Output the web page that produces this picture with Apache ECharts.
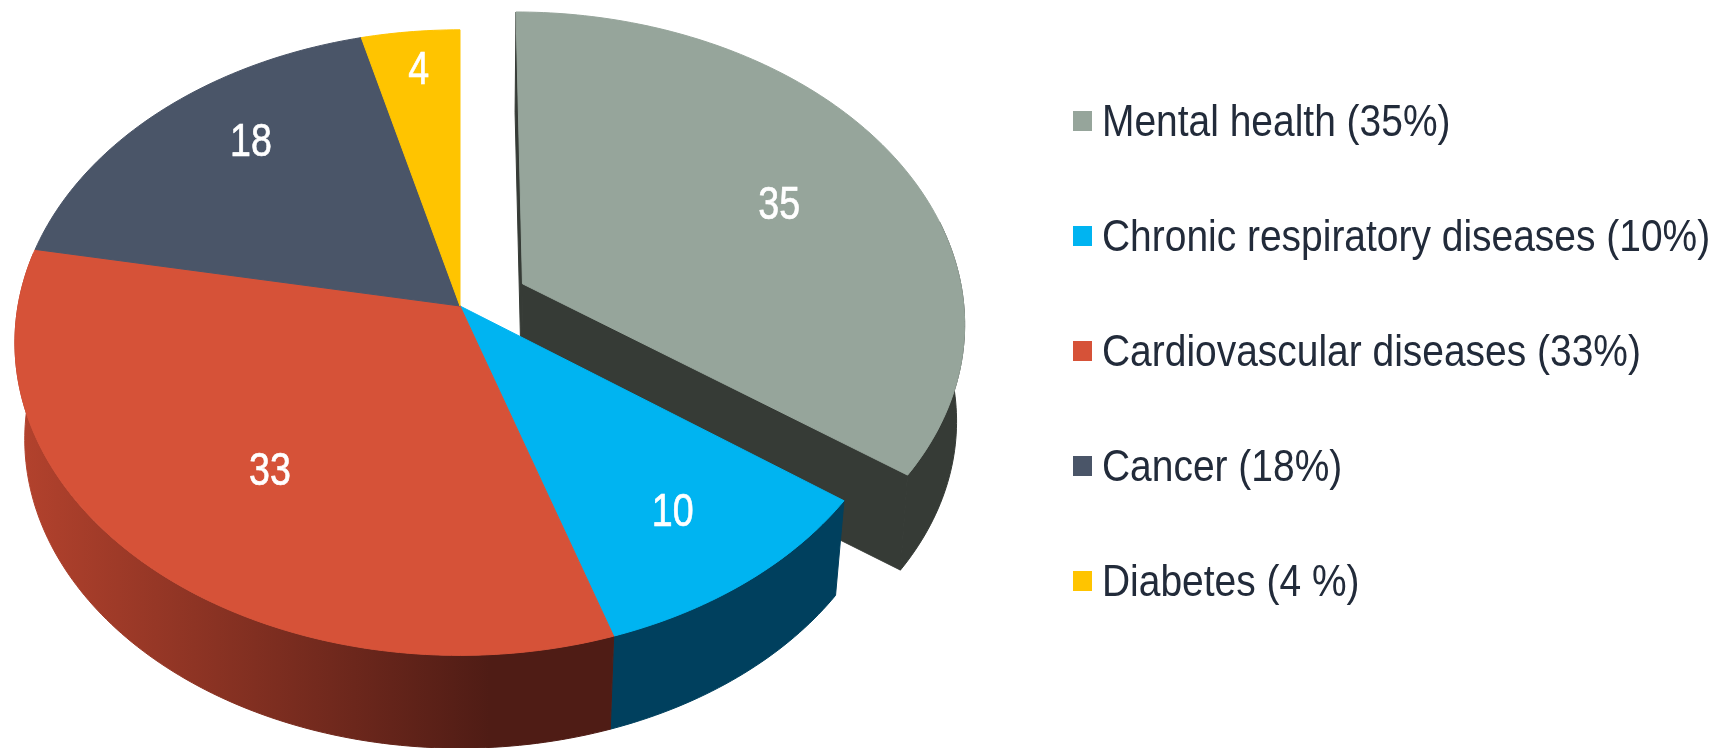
<!DOCTYPE html>
<html>
<head>
<meta charset="utf-8">
<style>html,body{margin:0;padding:0;background:#fff}#c{width:1712px;height:748px}</style>
<script src="https://cdn.jsdelivr.net/npm/echarts@6/dist/echarts.min.js"></script>
</head>
<body>
<div id="c"></div>
<script>
const categories = ['Mental health', 'Chronic respiratory diseases', 'Cardiovascular diseases', 'Cancer', 'Diabetes'];
const values = [35, 10, 33, 18, 4];
const legendLabels = ['Mental health (35%)', 'Chronic respiratory diseases (10%)', 'Cardiovascular diseases (33%)', 'Cancer (18%)', 'Diabetes (4 %)'];
const topColors = ['#96a59b', '#00b4f1', '#d65238', '#4a5568', '#ffc400'];
const wallColors = ['#363b36', '#00405e', null, '#333a47', '#a88000'];
const explode = [0.16, 0, 0, 0, 0];
const labelRadius = [0.668, 0.76, 0.642, 0.765, 0.855];
const labelShift = [2.7, 0, -2.3, 5.5, 0.3];
const lowerWidth = [0.984, 0.978, 0.978, 0.978, 0.978];

// projection of the tilted disc
const apexX = 460, apexY = 306, scaleX = 442, scaleY = 308.5, persp = 0.117;
const lowerScaleY = 0.988, depth = 97;
const total = values.reduce((a, b) => a + b, 0);
const FONT = '"Liberation Sans",Arial,sans-serif';

function project(dx, dy, lower) {
  const w = 1 + persp * dy;
  let X = scaleX * dx / w, Y = -scaleY * dy / w;
  if (lower !== false) { X *= lower; Y = Y * lowerScaleY + depth; }
  return [apexX + X, apexY + Y];
}
function rimPoint(deg, off, lower) {
  const t = deg * Math.PI / 180;
  return project(off[0] + Math.sin(t), off[1] + Math.cos(t), lower);
}
function arc(from, to, off, lower) {
  const pts = [];
  const n = Math.max(2, Math.ceil(Math.abs(to - from)));
  for (let i = 0; i <= n; i++) pts.push(rimPoint(from + (to - from) * i / n, off, lower));
  return pts;
}
const poly = (points, fill) => ({ type: 'polygon', shape: { points }, style: { fill, stroke: fill, lineWidth: 1 }, silent: true });

function makeRender(index) {
  return function (params, api) {
    const v = api.value(0);
    let start = 0;
    for (let i = 0; i < index; i++) start += values[i];
    const a = start / total * 360, b = (start + v) / total * 360;
    const mid = (a + b) / 2, mr = mid * Math.PI / 180;
    const off = [explode[index] * Math.sin(mr), explode[index] * Math.cos(mr)];
    const low = lowerWidth[index];
    const children = [];
    const wallFill = wallColors[index] || {
      type: 'linear', x: 20, y: 0, x2: 490, y2: 0, global: true,
      colorStops: [{ offset: 0, color: '#b3422d' }, { offset: 1, color: '#4f1c15' }]
    };
    // outer wall, front half only
    const wa = Math.max(a, 78), wb = Math.min(b, 280);
    if (wb > wa) {
      children.push(poly(arc(wa, wb, off, false).concat(arc(wa, wb, off, low).reverse()), wallFill));
    }
    // cut faces of an exploded slice
    if (explode[index] > 0) {
      const at = project(off[0], off[1], false), al = project(off[0], off[1], low);
      [a, b].forEach(d => {
        children.push(poly([at, rimPoint(d, off, false), rimPoint(d, off, low), al], wallFill));
      });
    }
    // top face
    children.push(poly([project(off[0], off[1], false)].concat(arc(a, b, off, false)), topColors[index]));
    // value label
    const lr = (mid + labelShift[index]) * Math.PI / 180;
    const lp = project(off[0] + labelRadius[index] * Math.sin(lr), off[1] + labelRadius[index] * Math.cos(lr), false);
    children.push({
      type: 'text', silent: true, x: lp[0], y: lp[1] + 3, scaleX: 0.8,
      style: { text: String(v), x: 0, y: 0, fill: '#fff', stroke: '#fff', lineWidth: 0.7, align: 'center', verticalAlign: 'middle', font: 'normal 47px ' + FONT }
    });
    // legend row
    const rowY = 121 + index * 115;
    children.push({
      type: 'rect', silent: true,
      shape: { x: 1073, y: rowY - 10, width: 19, height: 20 },
      style: { fill: topColors[index] }
    });
    children.push({
      type: 'text', silent: true, x: 1102, y: rowY + 3, scaleX: 0.885,
      style: { text: legendLabels[index], x: 0, y: 0, fill: '#222b3a', align: 'left', verticalAlign: 'middle', font: 'normal 44px ' + FONT }
    });
    return { type: 'group', children };
  };
}

const chart = echarts.init(document.getElementById('c'), null, { renderer: 'canvas' });
chart.setOption({
  animation: false,
  backgroundColor: '#fff',
  series: categories.map((c, i) => ({
    type: 'custom', coordinateSystem: 'none', name: legendLabels[i],
    itemStyle: { color: topColors[i] },
    renderItem: makeRender(i),
    data: [[values[i]]]
  }))
});
</script>
</body>
</html>
